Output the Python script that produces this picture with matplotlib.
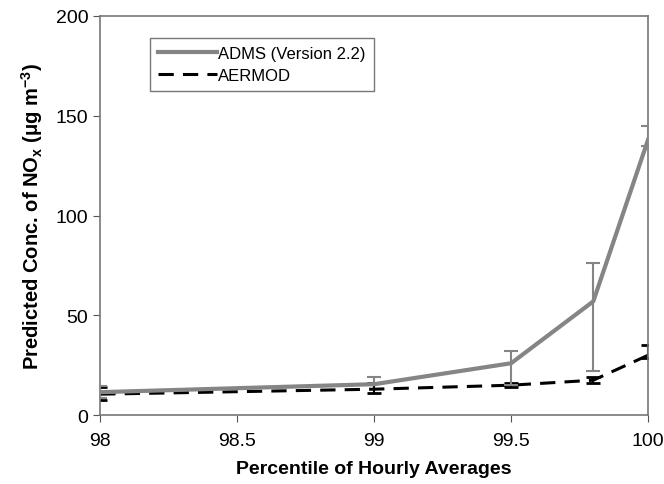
import matplotlib
matplotlib.use("Agg")
import matplotlib.pyplot as plt
from matplotlib.lines import Line2D

plt.rcParams['font.family'] = ['Liberation Sans', 'DejaVu Sans']

# Percentiles
percentil = [98, 99, 99.5, 99.8, 100]

# ADMS (Version 2.2)
adms = [11.5, 15.5, 26, 57, 138]
adms_inf = [3, 0, 11, 35, 3]
adms_sup = [3, 3.5, 6, 19, 7]

# AERMOD
aermod = [10.5, 13, 15, 17.5, 30]
aermod_inf = [3, 2, 1, 1.5, 1.5]
aermod_sup = [3.5, 3, 1, 1.5, 5]

fig = plt.figure(figsize=(6.64, 4.85), dpi=100)
ax = fig.add_axes([0.151, 0.142, 0.825, 0.823])

ax.errorbar(percentil, adms, yerr=[adms_inf, adms_sup], color='#858585', lw=3,
            ecolor='#858585', elinewidth=1.5, capsize=5, capthick=1.5, zorder=3)
ax.errorbar(percentil, aermod, yerr=[aermod_inf, aermod_sup], color='black', lw=2.2,
            ls=(0, (5, 3)), ecolor='black', elinewidth=1.5, capsize=5, capthick=2, zorder=2)

ax.set_xlim(98, 100)
ax.set_ylim(0, 200)
ax.set_xticks([98, 98.5, 99, 99.5, 100])
ax.set_xticklabels(['98', '98.5', '99', '99.5', '100'])
ax.set_yticks([0, 50, 100, 150, 200])
ax.tick_params(labelsize=14, length=5, color='#555555', direction='out')
ax.tick_params(axis='x', pad=7)

for s in ax.spines.values():
    s.set_color('#777777')
    s.set_linewidth(1.2)

ax.set_xlabel('Percentile of Hourly Averages', fontsize=14, fontweight='bold', labelpad=8)
ax.set_ylabel('Predicted Conc. of NO$_\\mathregular{x}$ ($\\mathregular{\\mu}$g m$^{\\mathregular{-3}}$)',
              fontsize=14.5, fontweight='bold', labelpad=8)

handles = [Line2D([], [], color='#858585', lw=3),
           Line2D([], [], color='black', lw=2.2, ls=(0, (5, 3)))]
leg = ax.legend(handles, ['ADMS (Version 2.2)', 'AERMOD'], loc='upper left',
                bbox_to_anchor=(0.091, 0.945), borderaxespad=0, fontsize=12,
                frameon=True, fancybox=False, edgecolor='#555555', handlelength=3.5,
                handletextpad=0.1, borderpad=0.5, labelspacing=0.4)
leg.get_frame().set_linewidth(1.0)

fig.savefig('out.png', dpi=100)
